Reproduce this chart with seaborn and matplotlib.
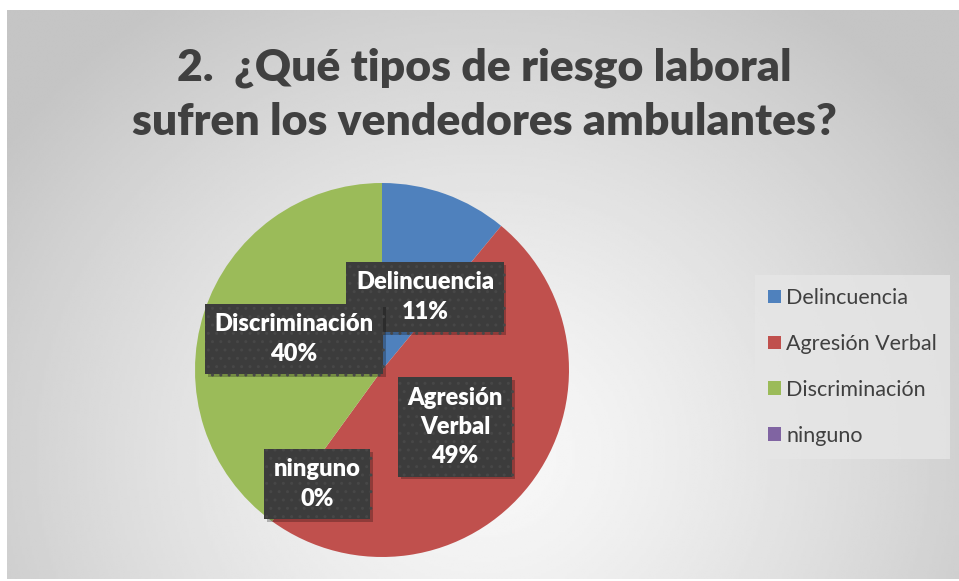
import matplotlib.pyplot as plt
import matplotlib.patheffects as pe
from matplotlib.patches import Patch
import seaborn as sns
import numpy as np

# datos del grafico
categorias = ["Delincuencia", "Agresión Verbal", "Discriminación", "ninguno"]
porcentajes = [11, 49, 40, 0]
colores = ["#4F81BD", "#C0504D", "#9BBB59", "#8064A2"]
titulo = "2.  ¿Qué tipos de riesgo laboral\nsufren los vendedores ambulantes?"

# posicion de las etiquetas (centro de cada caja, en pixeles de la figura)
pos_etiquetas = [(425, 297), (455, 427), (294, 339), (317, 484)]

sns.set_style("white")
plt.rcParams['font.family'] = ['Lato', 'DejaVu Sans']

W, H = 959, 581
fig = plt.figure(figsize=(W / 100, H / 100), dpi=100)
fig.patch.set_facecolor("white")

# fondo con degradado radial (estilo Excel)
bg = fig.add_axes([7 / W, 2 / H, 952 / W, 569 / H])
xx, yy = np.meshgrid(np.linspace(0, 1, 400), np.linspace(0, 1, 250))
d = np.sqrt(((xx - 0.5) / 0.62) ** 2 + ((yy - 0.78) / 0.95) ** 2)
d = np.clip(d, 0, 1)
grad = 0.975 - (0.975 - 0.77) * d ** 1.3
bg.imshow(grad, cmap="gray", vmin=0, vmax=1, aspect="auto", origin="upper",
          extent=[0, 1, 0, 1], interpolation="bilinear")
bg.set_axis_off()

# titulo
fig.text(484 / W, 1 - 95 / H, titulo, ha="center", va="center", fontsize=32,
         fontweight="heavy", color="#404040", linespacing=1.42)

# grafico circular
cx, cy, r = 382, 370, 187
ax = fig.add_axes([(cx - r) / W, (H - cy - r) / H, 2 * r / W, 2 * r / H])
ax.pie(porcentajes, colors=sns.color_palette(colores), startangle=90,
       counterclock=False, wedgeprops=dict(linewidth=0))
ax.set_xlim(-1, 1)
ax.set_ylim(-1, 1)
ax.set_axis_off()

# etiquetas de datos
for cat, val, (px, py) in zip(categorias, porcentajes, pos_etiquetas):
    nombre = cat.replace("Agresión Verbal", "Agresión\nVerbal")
    t = fig.text(px / W, 1 - py / H, f"{nombre}\n{val}%", ha="center", va="center",
                 fontsize=17, fontweight="heavy", color="white", linespacing=1.4,
                 bbox=dict(boxstyle="square,pad=0.4", facecolor="#3c3c3c",
                           edgecolor="#474747", linewidth=0, hatch=".."))
    t.get_bbox_patch().set_path_effects([
        pe.withSimplePatchShadow(offset=(2, -2), shadow_rgbFace="black", alpha=0.25),
        pe.Normal()])

# leyenda
handles = [Patch(facecolor=c, edgecolor="none") for c in colores]
leg = fig.legend(handles, categorias, loc="center left",
                 bbox_to_anchor=(755 / W, 1 - 367 / H), fontsize=15.5,
                 frameon=True, fancybox=False, handlelength=0.6, handleheight=0.6,
                 handletextpad=0.25, labelspacing=1.2, borderpad=0.6,
                 borderaxespad=0)
leg.get_frame().set_facecolor("#e6e6e6")
leg.get_frame().set_edgecolor("none")
for txt in leg.get_texts():
    txt.set_color("#404040")

fig.savefig("out.png", dpi=100)
